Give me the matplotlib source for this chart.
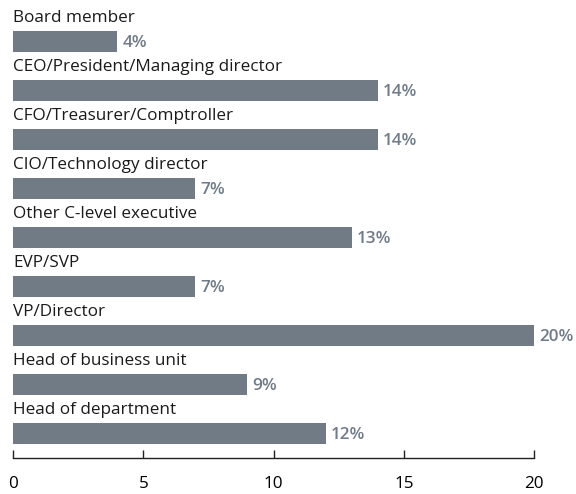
import matplotlib.pyplot as plt
import numpy as np

plt.rcParams["font.family"] = ["Open Sans", "DejaVu Sans"]

roles = [
    "Board member",
    "CEO/President/Managing director",
    "CFO/Treasurer/Comptroller",
    "CIO/Technology director",
    "Other C-level executive",
    "EVP/SVP",
    "VP/Director",
    "Head of business unit",
    "Head of department",
]
shares = [4, 14, 14, 7, 13, 7, 20, 9, 12]
xticks = [0, 5, 10, 15, 20]

BAR_COLOR = "#717b86"
VALUE_COLOR = "#6f7b88"

fig = plt.figure(figsize=(5.76, 4.94), dpi=100)
ax = fig.add_axes([13 / 576, 1 - 458 / 494, (534 - 13) / 576, (458 - 4.75) / 494])

y = np.arange(len(roles))
ax.barh(y, shares, height=0.43, color=BAR_COLOR)

for yi, role, val in zip(y, roles, shares):
    ax.text(0, yi - 0.48, role, ha="left", va="center", fontsize=12.3, color="#1a1a1a")
    ax.text(val + 0.2, yi + 0.03, f"{val}%", ha="left", va="center", fontsize=12.3,
            color=VALUE_COLOR, fontweight="semibold")

ax.set_xlim(0, 20)
ax.set_ylim(8.5, -0.75)
ax.set_xticks(xticks)
ax.set_yticks([])
for s in ["top", "right", "left"]:
    ax.spines[s].set_visible(False)
ax.spines["bottom"].set_color("#222222")
ax.spines["bottom"].set_linewidth(1.0)
ax.tick_params(axis="x", direction="in", length=6, width=1.0, color="#222222",
               labelsize=12.3, pad=13)

fig.savefig("out.png", dpi=100)
